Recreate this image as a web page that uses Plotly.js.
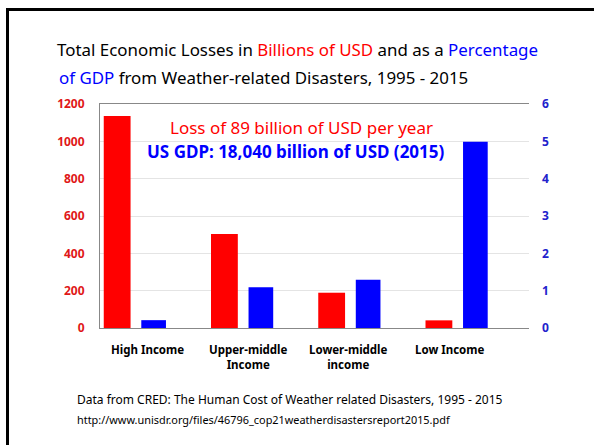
<!DOCTYPE html>
<html>
<head>
<meta charset="utf-8">
<script src="https://cdn.plot.ly/plotly-3.0.1.min.js"></script>
<style>
html,body{margin:0;padding:0;background:#fff;}
#frame{position:absolute;left:0;top:0;width:594px;height:445px;}
#border{position:absolute;left:6px;top:8px;width:600px;height:460px;border-left:3px solid #000;border-top:3px solid #000;pointer-events:none;}
#chart{position:absolute;left:0;top:0;width:594px;height:445px;}
</style>
</head>
<body>
<div id="frame">
<div id="chart"></div>
<div id="border"></div>
</div>
<script>
const categories = ["High Income", "Upper-middle Income", "Lower-middle income", "Low Income"];
const categoryLabels = ["High Income", "Upper-middle<br>Income", "Lower-middle<br>income", "Low Income"];
const lossesBillionUSD = [1136, 503, 189, 41];
const lossesPctGDP = [0.21, 1.09, 1.29, 4.99];
const leftTicks = [0, 200, 400, 600, 800, 1000, 1200];
const rightTicks = [0, 1, 2, 3, 4, 5, 6];

const RED = "#ff0000", BLUE = "#0000ff";
const FONT = "Noto Sans, Open Sans, sans-serif";

const idx = categories.map((c, i) => i);

const traces = [
  {type: "bar", x: idx, y: lossesBillionUSD, yaxis: "y", name: "Losses (billion USD)",
   marker: {color: RED}, width: 0.25, offset: -0.465, hoverinfo: "skip"},
  {type: "bar", x: idx, y: lossesPctGDP, yaxis: "y2", name: "Losses (% of GDP)",
   marker: {color: BLUE}, width: 0.23, offset: -0.115, hoverinfo: "skip"}
];

const labelShift = [-0.06, -0.12, -0.18, -0.24];
const annotations = categoryLabels.map((t, i) => ({
  xref: "x", yref: "paper", x: i + labelShift[i], y: 0, yshift: -12,
  xanchor: "center", yanchor: "top", showarrow: false,
  text: "<b>" + t + "</b>", font: {family: FONT, size: 11.5, color: "#000"}
}));

annotations.push(
  {xref: "paper", yref: "paper", x: -0.1002, y: 1.1205, xanchor: "left", yanchor: "middle", showarrow: false,
   text: "<span style='color:#0000ff'>of GDP</span> from Weather-related Disasters, 1995 - 2015",
   font: {family: FONT, size: 16.9, color: "#000"}},
  {xref: "paper", yref: "paper", x: 0.47, y: 0.895, xanchor: "center", yanchor: "middle", showarrow: false,
   text: "Loss of 89 billion of USD per year", font: {family: FONT, size: 17, color: RED}},
  {xref: "paper", yref: "paper", x: 0.458, y: 0.79, xanchor: "center", yanchor: "middle", showarrow: false,
   text: "<b>US GDP: 18,040 billion of USD (2015)</b>", font: {family: FONT, size: 17, color: BLUE}},
  {xref: "paper", yref: "paper", x: -0.058, y: -0.32, xanchor: "left", yanchor: "middle", showarrow: false,
   text: "Data from CRED: The Human Cost of Weather related Disasters, 1995 - 2015",
   font: {family: FONT, size: 12, color: "#000"}},
  {xref: "paper", yref: "paper", x: -0.058, y: -0.41, xanchor: "left", yanchor: "middle", showarrow: false,
   text: "http://www.unisdr.org/files/46796_cop21weatherdisastersreport2015.pdf",
   font: {family: FONT, size: 10.9, color: "#000"}}
);

const layout = {
  width: 594, height: 445,
  margin: {l: 100, r: 65, t: 104, b: 117, pad: 0},
  paper_bgcolor: "#fff", plot_bgcolor: "#fff",
  showlegend: false,
  barmode: "overlay",
  title: {
    text: "Total Economic Losses in <span style='color:#ff0000'>Billions of USD</span> and as a <span style='color:#0000ff'>Percentage</span>",
    font: {family: FONT, size: 16.9, color: "#000"},
    xref: "container", yref: "container", x: 0.096, xanchor: "left", y: 0.888, yanchor: "middle"
  },
  xaxis: {
    range: [-0.5, 3.5], tickvals: [], showticklabels: false, showgrid: false, zeroline: false,
    showline: true, linecolor: "#888", linewidth: 1, mirror: true, fixedrange: true
  },
  yaxis: {
    range: [0, 1200], tickvals: leftTicks, ticktext: leftTicks.map(String),
    tickfont: {family: FONT, size: 12, color: "#e01818", weight: "bold"},
    showgrid: true, gridcolor: "#e4e4e4", gridwidth: 1, zeroline: false,
    showline: true, linecolor: "#888", linewidth: 1, ticks: "", ticklabelstandoff: 12
  },
  yaxis2: {
    range: [0, 6], tickvals: rightTicks, ticktext: rightTicks.map(String),
    overlaying: "y", side: "right",
    tickfont: {family: FONT, size: 12, color: "#2222cc", weight: "bold"},
    showgrid: false, zeroline: false, showline: false, ticks: "", ticklabelstandoff: 12
  },
  annotations: annotations
};

Plotly.newPlot("chart", traces, layout, {displayModeBar: false, staticPlot: true});
</script>
</body>
</html>
